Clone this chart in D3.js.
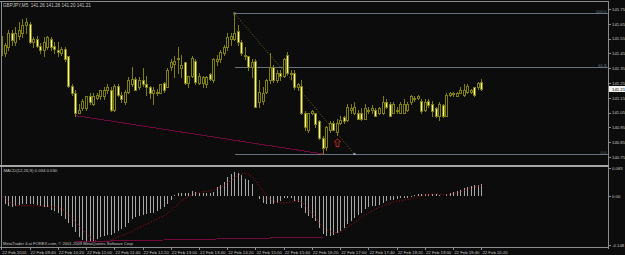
<!DOCTYPE html>
<html>
<head>
<meta charset="utf-8">
<script src="https://cdn.jsdelivr.net/npm/d3@7"></script>
<style>
  html, body { margin: 0; padding: 0; background: #0c0c0c; }
  svg { display: block; }
  text { font-family: "Liberation Sans", Arial, sans-serif; }
</style>
</head>
<body>
<svg id="chart" width="625" height="255"></svg>
<script>
//

const title = 'GBPJPY,M5  141.26 141.28 141.20 141.21'
const macdTitle = 'MACD(12,26,9) 0.034 0.030'
const footer = 'MetaTrader 4 at FOREX.com, \u00a9 2001-2009 MetaQuotes Software Corp.'
const startTime = new Date(2010, 1, 22, 9, 0)

// M5 bars, 09:00 .. 20:20
const open = [
  141.57, 141.45, 141.49, 141.59, 141.53, 141.57, 141.59, 141.64, 141.65, 141.53,
  141.55, 141.50, 141.47, 141.49, 141.55, 141.50, 141.47, 141.45, 141.48, 141.43,
  141.23, 141.18, 141.05, 141.08, 141.08, 141.16, 141.11, 141.15, 141.16, 141.16,
  141.20, 141.20, 141.07, 141.23, 141.17, 141.12, 141.19, 141.24, 141.28, 141.22,
  141.27, 141.24, 141.22, 141.18, 141.19, 141.18, 141.25, 141.22, 141.36, 141.38,
  141.41, 141.35, 141.39, 141.25, 141.30, 141.40, 141.25, 141.25, 141.24, 141.31,
  141.27, 141.40, 141.41, 141.45, 141.49, 141.55, 141.55, 141.60, 141.53, 141.44,
  141.43, 141.36, 141.40, 141.12, 141.13, 141.19, 141.27, 141.36, 141.27, 141.32,
  141.30, 141.44, 141.32, 141.32, 141.22, 141.23, 141.05, 140.93, 141.05, 141.05,
  140.99, 140.88, 140.82, 140.93, 140.98, 140.92, 140.98, 141.02, 141.00, 141.07,
  141.05, 141.05, 141.05, 141.01, 141.07, 141.07, 141.07, 141.05, 141.05, 141.12,
  141.11, 141.05, 141.07, 141.05, 141.05, 141.07, 141.12, 141.14, 141.15, 141.13,
  141.07, 141.13, 141.11, 141.08, 141.03, 141.10, 141.03, 141.17, 141.18, 141.16,
  141.18, 141.17, 141.19, 141.19, 141.22, 141.22, 141.26
]
const high = [
  141.61, 141.52, 141.61, 141.61, 141.63, 141.66, 141.68, 141.69, 141.66, 141.56,
  141.57, 141.52, 141.56, 141.57, 141.56, 141.53, 141.53, 141.49, 141.49, 141.43,
  141.24, 141.20, 141.11, 141.14, 141.16, 141.18, 141.18, 141.18, 141.20, 141.22,
  141.24, 141.22, 141.24, 141.24, 141.19, 141.20, 141.29, 141.36, 141.29, 141.29,
  141.35, 141.30, 141.23, 141.22, 141.21, 141.24, 141.26, 141.35, 141.41, 141.43,
  141.49, 141.44, 141.39, 141.30, 141.43, 141.41, 141.32, 141.30, 141.30, 141.32,
  141.42, 141.44, 141.47, 141.51, 141.59, 141.59, 141.72, 141.64, 141.54, 141.49,
  141.43, 141.41, 141.41, 141.27, 141.22, 141.28, 141.45, 141.37, 141.34, 141.34,
  141.42, 141.46, 141.34, 141.34, 141.25, 141.27, 141.06, 141.05, 141.07, 141.05,
  141.00, 140.89, 140.96, 140.99, 140.99, 141.01, 141.03, 141.03, 141.11, 141.11,
  141.12, 141.07, 141.08, 141.11, 141.09, 141.10, 141.08, 141.09, 141.16, 141.14,
  141.12, 141.12, 141.09, 141.12, 141.14, 141.12, 141.17, 141.16, 141.17, 141.14,
  141.14, 141.14, 141.13, 141.09, 141.12, 141.11, 141.18, 141.19, 141.19, 141.19,
  141.22, 141.24, 141.24, 141.21, 141.22, 141.26, 141.28
]
const low = [
  141.41, 141.43, 141.47, 141.51, 141.51, 141.55, 141.56, 141.59, 141.52, 141.49,
  141.49, 141.45, 141.43, 141.48, 141.47, 141.45, 141.43, 141.44, 141.40, 141.22,
  141.17, 141.03, 141.05, 141.07, 141.07, 141.11, 141.10, 141.14, 141.14, 141.14,
  141.18, 141.06, 141.06, 141.16, 141.12, 141.11, 141.18, 141.23, 141.20, 141.21,
  141.23, 141.17, 141.15, 141.11, 141.17, 141.18, 141.19, 141.22, 141.34, 141.29,
  141.32, 141.29, 141.24, 141.22, 141.29, 141.24, 141.24, 141.22, 141.22, 141.27,
  141.26, 141.37, 141.39, 141.44, 141.47, 141.51, 141.54, 141.51, 141.44, 141.41,
  141.34, 141.29, 141.09, 141.09, 141.11, 141.18, 141.25, 141.26, 141.26, 141.27,
  141.29, 141.31, 141.28, 141.21, 141.20, 141.04, 140.93, 140.92, 141.04, 140.95,
  140.87, 140.77, 140.80, 140.92, 140.93, 140.90, 140.97, 140.98, 140.99, 141.05,
  141.04, 141.01, 141.00, 141.01, 141.05, 141.05, 141.03, 141.04, 141.04, 141.08,
  141.03, 141.05, 141.05, 141.05, 141.05, 141.06, 141.11, 141.13, 141.14, 141.05,
  141.06, 141.09, 141.03, 141.02, 141.00, 141.02, 141.03, 141.16, 141.16, 141.16,
  141.18, 141.16, 141.18, 141.18, 141.16, 141.21, 141.20
]
const close = [
  141.44, 141.51, 141.59, 141.54, 141.59, 141.61, 141.64, 141.66, 141.53, 141.55,
  141.50, 141.47, 141.53, 141.56, 141.49, 141.48, 141.46, 141.48, 141.41, 141.23,
  141.18, 141.05, 141.07, 141.13, 141.16, 141.12, 141.16, 141.17, 141.20, 141.20,
  141.22, 141.07, 141.23, 141.17, 141.14, 141.19, 141.27, 141.28, 141.20, 141.27,
  141.24, 141.22, 141.18, 141.20, 141.18, 141.24, 141.20, 141.34, 141.39, 141.40,
  141.42, 141.37, 141.25, 141.30, 141.42, 141.26, 141.30, 141.29, 141.29, 141.28,
  141.41, 141.41, 141.46, 141.49, 141.56, 141.57, 141.59, 141.53, 141.45, 141.43,
  141.36, 141.39, 141.09, 141.19, 141.18, 141.27, 141.36, 141.27, 141.32, 141.30,
  141.41, 141.32, 141.31, 141.22, 141.24, 141.05, 140.95, 141.05, 141.06, 140.97,
  140.88, 140.81, 140.95, 140.98, 140.93, 140.98, 141.00, 140.99, 141.09, 141.08,
  141.09, 141.01, 141.01, 141.08, 141.07, 141.08, 141.03, 141.08, 141.12, 141.09,
  141.03, 141.11, 141.07, 141.11, 141.11, 141.11, 141.16, 141.15, 141.16, 141.06,
  141.12, 141.10, 141.06, 141.03, 141.11, 141.03, 141.17, 141.18, 141.18, 141.18,
  141.20, 141.20, 141.23, 141.20, 141.17, 141.25, 141.21
]

const macd = [
  -0.019, -0.025, -0.030, -0.033, -0.031, -0.029, -0.025, -0.025, -0.025, -0.025,
  -0.027, -0.030, -0.033, -0.035, -0.043, -0.047, -0.053, -0.060, -0.070, -0.083,
  -0.095, -0.110, -0.123, -0.133, -0.140, -0.140, -0.135, -0.131, -0.125, -0.121,
  -0.117, -0.117, -0.111, -0.105, -0.099, -0.093, -0.083, -0.071, -0.063, -0.060,
  -0.059, -0.055, -0.053, -0.051, -0.047, -0.041, -0.035, -0.025, -0.013, 0.003,
  0.007, 0.009, 0.008, 0.007, 0.013, 0.011, 0.009, 0.008, 0.008, 0.009,
  0.012, 0.026, 0.031, 0.041, 0.056, 0.066, 0.071, 0.068, 0.061, 0.051,
  0.046, 0.036, -0.002, -0.011, -0.021, -0.026, -0.024, -0.026, -0.021, -0.016,
  -0.008, -0.006, -0.008, -0.016, -0.018, -0.036, -0.051, -0.061, -0.068, -0.076,
  -0.096, -0.116, -0.121, -0.121, -0.118, -0.111, -0.106, -0.096, -0.086, -0.076,
  -0.066, -0.058, -0.051, -0.041, -0.034, -0.032, -0.032, -0.028, -0.021, -0.016,
  -0.014, -0.012, -0.010, -0.008, -0.006, -0.006, -0.003, 0.002, 0.004, 0.006,
  0.005, 0.006, 0.005, 0.004, 0.002, -0.002, 0.004, 0.008, 0.012, 0.015,
  0.018, 0.022, 0.026, 0.028, 0.031, 0.033, 0.034
]
const signal = [
  0.004, -0.008, -0.018, -0.025, -0.029, -0.030, -0.030, -0.030, -0.030, -0.030,
  -0.030, -0.031, -0.031, -0.032, -0.033, -0.035, -0.037, -0.040, -0.045, -0.057,
  -0.068, -0.080, -0.092, -0.103, -0.115, -0.125, -0.132, -0.137, -0.138, -0.137,
  -0.135, -0.132, -0.128, -0.124, -0.120, -0.116, -0.111, -0.106, -0.100, -0.095,
  -0.090, -0.085, -0.080, -0.075, -0.070, -0.065, -0.060, -0.053, -0.044, -0.034,
  -0.025, -0.016, -0.008, -0.002, 0.003, 0.007, 0.010, 0.012, 0.013, 0.0145,
  0.017, 0.021, 0.025, 0.031, 0.039, 0.046, 0.054, 0.062, 0.066, 0.066,
  0.064, 0.055, 0.045, 0.030, 0.012, 0.000, -0.013, -0.017, -0.020, -0.021,
  -0.021, -0.020, -0.019, -0.016, -0.014, -0.020, -0.030, -0.041, -0.057, -0.064,
  -0.083, -0.094, -0.102, -0.108, -0.111, -0.110, -0.107, -0.102, -0.093, -0.087,
  -0.080, -0.072, -0.064, -0.058, -0.052, -0.046, -0.040, -0.035, -0.031, -0.026,
  -0.022, -0.019, -0.017, -0.015, -0.013, -0.011, -0.009, -0.006, -0.003, 0.000,
  0.002, 0.004, 0.005, 0.005, 0.004, 0.003, 0.003, 0.004, 0.006, 0.009,
  0.012, 0.016, 0.021, 0.024, 0.026, 0.028, 0.030
]

const priceTicks = [141.75, 141.65, 141.55, 141.45, 141.35, 141.25, 141.15, 141.05, 140.95, 140.85, 140.75]
const macdTicks = [0.083, 0.00, -0.148]
const macdTickLabels = ['0.083', '0.00', '-0.148']
const timeLabels = [
  '22 Feb 2010', '22 Feb 09:40', '22 Feb 10:20', '22 Feb 11:00', '22 Feb 11:40', '22 Feb 12:20',
  '22 Feb 13:00', '22 Feb 13:40', '22 Feb 14:20', '22 Feb 15:00', '22 Feb 15:40', '22 Feb 16:20',
  '22 Feb 17:00', '22 Feb 17:40', '22 Feb 18:20', '22 Feb 19:00', '22 Feb 19:40', '22 Feb 20:20'
]

// objects on the chart
const fibBars = [66, 100]
const fibPrices = [141.72, 140.77]
const fibLevels = [0.0, 61.8, 100.0]
const trendBars = [21, 91]
const trendPrices = [141.03, 140.77]
const trendMacd = [-0.138, -0.124]
const arrowBar = 95
const arrowPrice = 140.88

//

const W = 625
const H = 255
const axisX = 608.5
const mainTop = 1.5
const sepY = 165.5
const subBottom = 247.5

const bg = '#0c0c0c'
const frame = '#8c8c8c'
const textColor = '#c4c4c4'
const candleLine = '#7e7e12'
const bearFill = '#f6f6a2'
const bullFill = '#0c0c0c'
const fibColor = '#64737f'
const trendColor = '#74093f'

const svg = d3.select('#chart')
svg.append('rect').attr('width', W).attr('height', H).attr('fill', bg)

const barTimes = open.map((_, i) => d3.timeMinute.offset(startTime, 5 * i))
const bars = open.map((o, i) => ({ t: barTimes[i], o, h: high[i], l: low[i], c: close[i], m: macd[i], s: signal[i] }))

const x = d3.scaleTime()
  .domain([barTimes[0], barTimes[barTimes.length - 1]])
  .range([1.3, 481.4])
const y = d3.scaleLinear().domain([140.75, 141.75]).range([157, 9])
const ym = d3.scaleLinear().domain([-0.148, 0.083]).range([245, 168])
const px = (t) => Math.round(x(t)) + 0.5

const defs = svg.append('defs')
defs.append('clipPath').attr('id', 'clipMain')
  .append('rect').attr('x', 2).attr('y', 2).attr('width', axisX - 2).attr('height', sepY - 3)
defs.append('clipPath').attr('id', 'clipSub')
  .append('rect').attr('x', 2).attr('y', sepY + 1.5).attr('width', axisX - 2).attr('height', subBottom - sepY - 1.5)

const main = svg.append('g').attr('clip-path', 'url(#clipMain)')
const sub = svg.append('g').attr('clip-path', 'url(#clipSub)')

// fibonacci levels (rays to the right)
const fibStart = px(barTimes[fibBars[0]])
const fibPrice = (lvl) => fibPrices[1] + (fibPrices[0] - fibPrices[1]) * lvl / 100

main.selectAll('line.fib').data(fibLevels).join('line')
  .attr('class', 'fib')
  .attr('x1', fibStart).attr('x2', axisX)
  .attr('y1', d => Math.round(y(fibPrice(d))) + 0.5)
  .attr('y2', d => Math.round(y(fibPrice(d))) + 0.5)
  .attr('stroke', fibColor).attr('stroke-width', 1)
  .attr('shape-rendering', 'crispEdges')

main.selectAll('text.fib').data(fibLevels).join('text')
  .attr('class', 'fib')
  .attr('x', axisX - 2)
  .attr('y', d => Math.round(y(fibPrice(d))) - 0.5)
  .attr('text-anchor', 'end')
  .attr('font-size', 4.3)
  .attr('fill', fibColor)
  .text(d => d3.format('.1f')(d))

// fib diagonal (dotted)
main.append('line')
  .attr('x1', px(barTimes[fibBars[0]])).attr('y1', y(fibPrices[0]))
  .attr('x2', px(barTimes[fibBars[1]])).attr('y2', y(fibPrices[1]))
  .attr('stroke', '#76760e').attr('stroke-width', 1)
  .attr('stroke-dasharray', '1,2')
main.selectAll('rect.anchor').data(fibBars).join('rect')
  .attr('class', 'anchor')
  .attr('x', (d) => px(barTimes[d]) - 1)
  .attr('y', (d, i) => y(fibPrices[i]) - 1)
  .attr('width', 2).attr('height', 2)
  .attr('fill', '#a8a8a8')

// trend line
main.append('line')
  .attr('x1', px(barTimes[trendBars[0]])).attr('y1', y(trendPrices[0]))
  .attr('x2', px(barTimes[trendBars[1]])).attr('y2', y(trendPrices[1]))
  .attr('stroke', trendColor).attr('stroke-width', 1)
  .attr('shape-rendering', 'crispEdges')

// candles
const candles = main.append('g')
candles.selectAll('line').data(bars).join('line')
  .attr('x1', d => px(d.t)).attr('x2', d => px(d.t))
  .attr('y1', d => Math.round(y(d.h)))
  .attr('y2', d => Math.round(y(d.l)) + 1)
  .attr('stroke', candleLine).attr('stroke-width', 1)
  .attr('shape-rendering', 'crispEdges')

candles.selectAll('rect').data(bars).join('rect')
  .attr('x', d => px(d.t) - 1)
  .attr('y', d => Math.round(y(Math.max(d.o, d.c))) + 0.5)
  .attr('width', 2)
  .attr('height', d => Math.max(0.5, Math.round(y(Math.min(d.o, d.c))) - Math.round(y(Math.max(d.o, d.c)))))
  .attr('fill', d => d.c < d.o ? bearFill : bullFill)
  .attr('stroke', candleLine).attr('stroke-width', 1)
  .attr('shape-rendering', 'crispEdges')

// arrow mark
const ax = px(barTimes[arrowBar])
const ay = Math.round(y(arrowPrice)) + 0.5
main.append('path')
  .attr('d', `M${ax},${ay} l3,3.5 h-1.5 v4.5 h-3 v-4.5 h-1.5 Z`)
  .attr('fill', 'none').attr('stroke', '#b8261c').attr('stroke-width', 1)

// MACD sub-window
sub.selectAll('line.hist').data(bars).join('line')
  .attr('class', 'hist')
  .attr('x1', d => px(d.t)).attr('x2', d => px(d.t))
  .attr('y1', Math.round(ym(0)))
  .attr('y2', d => Math.round(ym(d.m)))
  .attr('stroke', '#a8a8a8').attr('stroke-width', 1)
  .attr('shape-rendering', 'crispEdges')

sub.append('path')
  .datum(bars)
  .attr('d', d3.line().x(d => px(d.t)).y(d => ym(d.s)))
  .attr('fill', 'none').attr('stroke', '#b81010').attr('stroke-width', 1)
  .attr('stroke-dasharray', '1,2')

sub.append('line')
  .attr('x1', px(barTimes[trendBars[0]])).attr('y1', ym(trendMacd[0]))
  .attr('x2', px(barTimes[trendBars[1]])).attr('y2', ym(trendMacd[1]))
  .attr('stroke', trendColor).attr('stroke-width', 1)
  .attr('shape-rendering', 'crispEdges')

// frames
const frames = svg.append('g')
  .attr('stroke', frame).attr('stroke-width', 1).attr('shape-rendering', 'crispEdges')
frames.append('line').attr('x1', 0).attr('x2', axisX).attr('y1', mainTop).attr('y2', mainTop)
frames.append('line').attr('x1', 1.5).attr('x2', 1.5).attr('y1', mainTop).attr('y2', subBottom)
frames.append('line').attr('x1', axisX).attr('x2', axisX).attr('y1', mainTop).attr('y2', subBottom + 1)
frames.append('line').attr('x1', 0).attr('x2', axisX).attr('y1', subBottom).attr('y2', subBottom)
frames.append('rect').attr('x', 0).attr('y', sepY - 0.5).attr('width', axisX).attr('height', 2)
  .attr('fill', '#a6a6a6').attr('stroke', 'none')

// price axis
const priceAxis = d3.axisRight(y)
  .tickValues(priceTicks)
  .tickFormat(d3.format('.2f'))
  .tickSize(2)
  .tickPadding(1.5)
const gPrice = svg.append('g').attr('transform', `translate(${axisX},0)`).call(priceAxis)
gPrice.select('.domain').remove()

const macdAxis = d3.axisRight(ym)
  .tickValues(macdTicks)
  .tickFormat((d, i) => macdTickLabels[i])
  .tickSize(2)
  .tickPadding(1.5)
const gMacd = svg.append('g').attr('transform', `translate(${axisX},0)`).call(macdAxis)
gMacd.select('.domain').remove()

// time axis
const timeAxis = d3.axisBottom(x)
  .tickValues(timeLabels.map((_, i) => barTimes[i * 8]))
  .tickFormat((d, i) => timeLabels[i])
  .tickSize(2.5)
  .tickPadding(0.5)
const gTime = svg.append('g').attr('transform', `translate(0,${subBottom})`).call(timeAxis)
gTime.select('.domain').remove()
gTime.selectAll('.tick text').attr('text-anchor', 'start').attr('dx', 0.5)

for (const g of [gPrice, gMacd, gTime]) {
  g.attr('font-size', 4.3).attr('font-family', null)
  g.selectAll('.tick line').attr('stroke', frame).attr('shape-rendering', 'crispEdges')
  g.selectAll('.tick text').attr('fill', textColor)
}

// current price marker
const lastY = Math.round(y(close[close.length - 1]))
svg.append('rect')
  .attr('x', axisX + 0.5).attr('y', lastY - 3).attr('width', W - axisX).attr('height', 6)
  .attr('fill', '#f4f4f4')
svg.append('text')
  .attr('x', axisX + 3.5).attr('y', lastY + 1.5)
  .attr('font-size', 4.3).attr('fill', '#000')
  .text(d3.format('.2f')(close[close.length - 1]))

// labels
svg.append('text').attr('x', 3).attr('y', 7).attr('font-size', 4.6).attr('fill', textColor)
  .attr('xml:space', 'preserve').text(title)
svg.append('text').attr('x', 3.5).attr('y', 172).attr('font-size', 4.3).attr('fill', textColor)
  .text(macdTitle)
svg.append('text').attr('x', 3).attr('y', 245).attr('font-size', 4.1).attr('fill', textColor)
  .text(footer)
</script>
</body>
</html>
